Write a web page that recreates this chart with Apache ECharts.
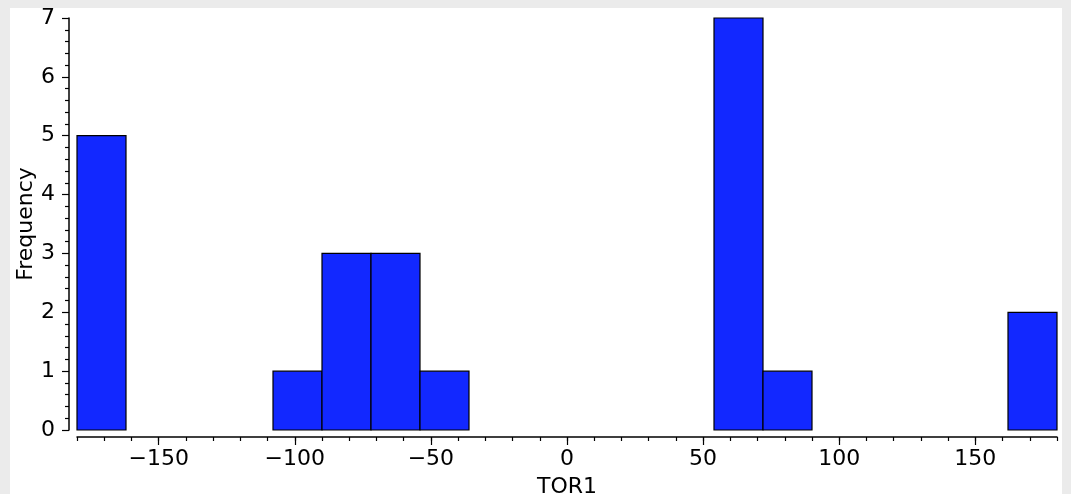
<!DOCTYPE html>
<html>
<head>
<meta charset="utf-8">
<script src="https://cdn.jsdelivr.net/npm/echarts@6/dist/echarts.min.js"></script>
<style>
  html, body { margin: 0; padding: 0; background: #ebebeb; width: 1071px; height: 494px; overflow: hidden; }
  #panel { position: absolute; left: 10px; top: 8px; width: 1052px; height: 486px; background: #ffffff; }
  #chart { position: absolute; left: 0; top: 0; width: 1071px; height: 494px; }
</style>
</head>
<body>
<div id="panel"></div>
<div id="chart"></div>
<script>
// Histogram of TOR1: bin start, bin end, frequency
const binStarts = [-180, -162, -144, -126, -108, -90, -72, -54, -36, -18, 0, 18, 36, 54, 72, 90, 108, 126, 144, 162];
const binEnds   = [-162, -144, -126, -108, -90, -72, -54, -36, -18, 0, 18, 36, 54, 72, 90, 108, 126, 144, 162, 180];
const counts    = [5, 0, 0, 0, 1, 3, 3, 1, 0, 0, 0, 0, 0, 7, 1, 0, 0, 0, 0, 2];
const xTickLabels = [-150, -100, -50, 0, 50, 100, 150];
const yTickLabels = [0, 1, 2, 3, 4, 5, 6, 7];

const xMin = -180, xMax = 180, xMinorStep = 10;
const tickCats = [];
for (let v = xMin; v <= xMax; v += xMinorStep) tickCats.push(String(v));

const barData = [];
for (let i = 0; i < counts.length; i++) {
  if (counts[i] > 0) barData.push([binStarts[i], binEnds[i], counts[i]]);
}

const font = 'DejaVu Sans';
const chart = echarts.init(document.getElementById('chart'), null, { renderer: 'canvas' });
chart.setOption({
  backgroundColor: 'transparent',
  animation: false,
  grid: { left: 77, right: 14, top: 18, bottom: 64, containLabel: false, outerBoundsMode: 'none' },
  xAxis: [
    {
      type: 'value', position: 'bottom', offset: 7,
      min: xMin, max: xMax, interval: xMinorStep,
      axisLine: { show: true, onZero: false, lineStyle: { color: '#000', width: 1.5 } },
      axisTick: { show: true, length: 4, lineStyle: { color: '#000', width: 1.2 } },
      axisLabel: { show: false },
      splitLine: { show: false },
      name: 'TOR1', nameLocation: 'middle', nameGap: 39, nameMoveOverlap: false,
      nameTextStyle: { fontFamily: font, fontSize: 22, color: '#000' }
    },
    {
      type: 'category', position: 'bottom', offset: 7,
      data: tickCats, boundaryGap: false,
      axisLine: { show: false, onZero: false },
      axisTick: { show: true, length: 8, lineStyle: { color: '#000', width: 1.2 },
        interval: (idx, val) => xTickLabels.indexOf(Number(val)) >= 0 },
      axisLabel: { show: true, fontFamily: font, fontSize: 22, color: '#000', margin: 11,
        interval: (idx, val) => xTickLabels.indexOf(Number(val)) >= 0,
        formatter: (val) => { const n = Number(val); return n < 0 ? '\u2212' + Math.abs(n) : String(n); } },
      splitLine: { show: false }
    }
  ],
  yAxis: {
    type: 'value', position: 'left', offset: 8,
    min: yTickLabels[0], max: yTickLabels[yTickLabels.length - 1], interval: 1,
    axisLine: { show: true, onZero: false, lineStyle: { color: '#000', width: 1.5 } },
    axisTick: { show: true, length: 7, lineStyle: { color: '#000', width: 1.2 } },
    minorTick: { show: true, splitNumber: 5, length: 4, lineStyle: { color: '#000', width: 1.2 } },
    axisLabel: { fontFamily: font, fontSize: 22, color: '#000', margin: 14 },
    splitLine: { show: false },
    name: 'Frequency', nameLocation: 'middle', nameGap: 32, nameMoveOverlap: false,
    nameTextStyle: { fontFamily: font, fontSize: 22, color: '#000' }
  },
  series: [{
    type: 'custom',
    xAxisIndex: 0, yAxisIndex: 0,
    data: barData,
    encode: { x: [0, 1], y: 2 },
    renderItem: function (params, api) {
      const pTop = api.coord([api.value(0), api.value(2)]);
      const pBot = api.coord([api.value(1), 0]);
      return {
        type: 'rect',
        shape: { x: pTop[0], y: pTop[1], width: pBot[0] - pTop[0], height: pBot[1] - pTop[1] },
        style: { fill: '#1228ff', stroke: '#000', lineWidth: 1.2 }
      };
    }
  }]
});
</script>
</body>
</html>
